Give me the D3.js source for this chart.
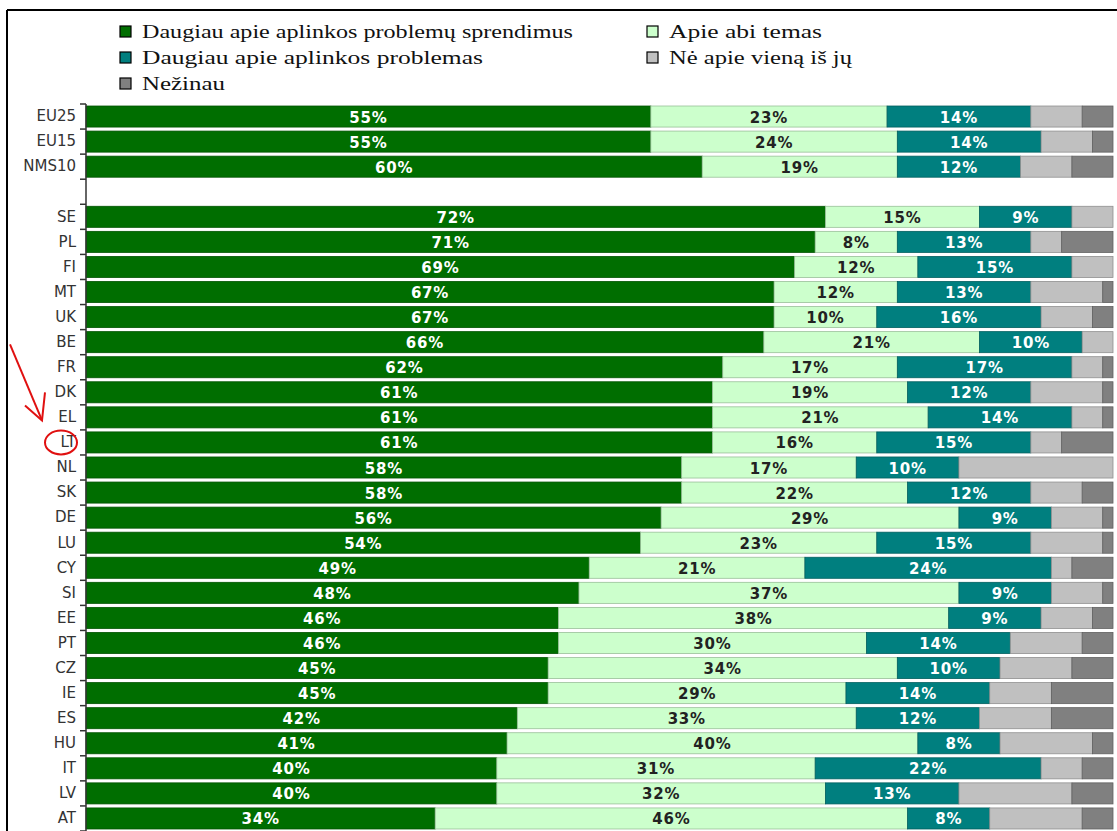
<!DOCTYPE html>
<html>
<head>
<meta charset="utf-8">
<script src="https://cdn.jsdelivr.net/npm/d3@7"></script>
<style>
  html, body { margin: 0; padding: 0; background: #fff; }
  svg { display: block; }
</style>
</head>
<body>
<svg id="chart" width="1117" height="831"></svg>
<script>
// ---- data ----
const countries = ["EU25","EU15","NMS10","SE","PL","FI","MT","UK","BE","FR","DK","EL","LT","NL","SK","DE","LU","CY","SI","EE","PT","CZ","IE","ES","HU","IT","LV","AT"];
const solutions = [55,55,60,72,71,69,67,67,66,62,61,61,61,58,58,56,54,49,48,46,46,45,45,42,41,40,40,34];
const both      = [23,24,19,15,8,12,12,10,21,17,19,21,16,17,22,29,23,21,37,38,30,34,29,33,40,31,32,46];
const problems  = [14,14,12,9,13,15,13,16,10,17,12,14,15,10,12,9,15,24,9,9,14,10,14,12,8,22,13,8];
const neither   = [5,5,5,4,3,4,7,5,3,3,7,3,3,15,5,5,7,2,5,5,7,7,6,7,9,4,11,9];
const dontKnow  = [3,2,4,0,5,0,1,2,0,1,1,1,5,0,3,1,1,4,1,2,3,4,6,6,2,3,4,3];
const seriesNames = ["Daugiau apie aplinkos problemų sprendimus","Apie abi temas","Daugiau apie aplinkos problemas","Nė apie vieną iš jų","Nežinau"];
const seriesColors = ["#006e00","#ccffcc","#007f7f","#c0c0c0","#808080"];
const labelColors = ["#ffffff","#222222","#ffffff",null,null];
const spacer = " ";
const highlighted = "LT";

// ---- build ----
const svg = d3.select("#chart");
const seriesValues = [solutions, both, problems, neither, dontKnow];
const rows = countries.map((c, i) => {
  const r = { cat: c };
  seriesValues.forEach((arr, k) => r["s" + k] = arr[i]);
  return r;
});
const keys = seriesValues.map((_, k) => "s" + k);
const stacked = d3.stack().keys(keys)(rows);

const domain = countries.slice(0, 3).concat([spacer], countries.slice(3));
const y = d3.scaleBand().domain(domain).range([104, 831]).paddingInner(0.16).paddingOuter(0.08);
const x = d3.scaleLinear().domain([0, 100]).range([86, 1113]);

// frame
svg.append("line").attr("x1", 7).attr("x2", 1117).attr("y1", 10).attr("y2", 10)
  .attr("stroke", "#000").attr("stroke-width", 2);
svg.append("line").attr("x1", 7).attr("x2", 7).attr("y1", 10).attr("y2", 831)
  .attr("stroke", "#000").attr("stroke-width", 2);

// bars
const layer = svg.append("g").selectAll("g").data(stacked).join("g")
  .attr("fill", (d, i) => seriesColors[i]);
layer.selectAll("rect").data(d => d).join("rect")
  .attr("x", d => x(d[0]))
  .attr("y", d => y(d.data.cat))
  .attr("width", d => Math.max(0, x(d[1]) - x(d[0])))
  .attr("height", y.bandwidth())
  .attr("stroke", function () { return d3.color(d3.select(this.parentNode).attr("fill")).darker(0.8); })
  .attr("stroke-width", 0.8);

// value labels
stacked.forEach((s, i) => {
  if (!labelColors[i]) return;
  svg.append("g").selectAll("text").data(s).join("text")
    .attr("x", d => (x(d[0]) + x(d[1])) / 2)
    .attr("y", d => y(d.data.cat) + y.bandwidth() / 2 + 1)
    .attr("text-anchor", "middle")
    .attr("dominant-baseline", "central")
    .attr("font-family", "DejaVu Sans, Verdana, sans-serif")
    .attr("font-weight", "bold")
    .attr("font-size", 15)
    .attr("letter-spacing", 0.8)
    .attr("fill", labelColors[i])
    .text(d => (d[1] - d[0]) + "%");
});

// axis
const axis = svg.append("g").attr("transform", "translate(86,0)")
  .call(d3.axisLeft(y).tickSize(0).tickPadding(10));
axis.select(".domain").remove();
axis.selectAll("text")
  .attr("font-family", "DejaVu Sans, Verdana, sans-serif")
  .attr("font-size", 15)
  .attr("fill", "#333");
const step = y.step();
const boundaries = domain.map(c => y(c) - step * y.paddingOuter()).concat([y(domain[domain.length - 1]) + y.bandwidth() + step * y.paddingOuter()]);
svg.append("line").attr("x1", 86).attr("x2", 86)
  .attr("y1", boundaries[0]).attr("y2", 831).attr("stroke", "#333").attr("stroke-width", 1.5);
svg.append("g").selectAll("line").data(boundaries).join("line")
  .attr("x1", 80).attr("x2", 86).attr("y1", d => d).attr("y2", d => d)
  .attr("stroke", "#333").attr("stroke-width", 1.5);

// legend
const legendItems = [
  { s: 0, x: 120, y: 38, w: 431 },
  { s: 2, x: 120, y: 64, w: 341 },
  { s: 4, x: 120, y: 90, w: 83 },
  { s: 1, x: 647, y: 38, w: 153 },
  { s: 3, x: 647, y: 64, w: 183 }
];
const lg = svg.append("g").selectAll("g").data(legendItems).join("g");
lg.append("rect")
  .attr("x", d => d.x).attr("y", d => d.y - 12)
  .attr("width", 11).attr("height", 11)
  .attr("fill", d => seriesColors[d.s]).attr("stroke", "#000").attr("stroke-width", 1.2);
lg.append("text")
  .attr("x", d => d.x + 22).attr("y", d => d.y)
  .attr("font-family", "Liberation Serif, Times New Roman, serif")
  .attr("font-size", 19)
  .attr("fill", "#111")
  .attr("textLength", d => d.w)
  .attr("lengthAdjust", "spacingAndGlyphs")
  .text(d => seriesNames[d.s]);

// annotation: red arrow and circle on highlighted country
const cy = y(highlighted) + y.bandwidth() / 2;
const ann = svg.append("g").attr("stroke", "#e01010").attr("stroke-width", 2).attr("fill", "none");
ann.append("path").attr("d", `M10,${cy - 98} L42,${cy - 22}`);
ann.append("path").attr("d", `M25,${cy - 37} L42,${cy - 22} L45,${cy - 50}`);
ann.append("ellipse").attr("cx", 61).attr("cy", cy).attr("rx", 16).attr("ry", 12);
</script>
</body>
</html>
